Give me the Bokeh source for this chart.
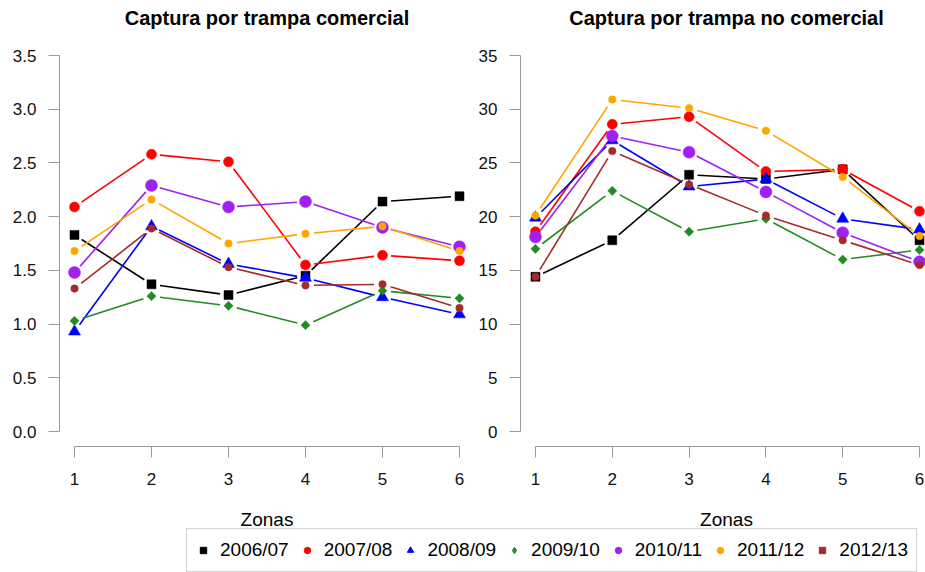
import math
from bokeh.plotting import figure
from bokeh.layouts import column, row
from bokeh.models import (Range1d, FixedTicker, Legend, LegendItem, ColumnDataSource,
                          NumeralTickFormatter, Label)
from bokeh.embed import file_html
from bokeh.resources import INLINE

# ---------------- data ----------------
zones = [1, 2, 3, 4, 5, 6]
seasons = ["2006/07", "2007/08", "2008/09", "2009/10", "2010/11", "2011/12", "2012/13"]
titles = ["Captura por trampa comercial", "Captura por trampa no comercial"]
x_title = "Zonas"

# Captura por trampa comercial
com_2006_07 = [1.83, 1.37, 1.27, 1.45, 2.14, 2.19]
com_2007_08 = [2.09, 2.58, 2.51, 1.55, 1.64, 1.59]
com_2008_09 = [0.93, 1.91, 1.56, 1.43, 1.25, 1.09]
com_2009_10 = [1.03, 1.26, 1.17, 0.99, 1.31, 1.24]
com_2010_11 = [1.48, 2.29, 2.09, 2.14, 1.90, 1.72]
com_2011_12 = [1.68, 2.16, 1.75, 1.84, 1.91, 1.68]
com_2012_13 = [1.33, 1.89, 1.53, 1.36, 1.37, 1.15]

# Captura por trampa no comercial
nocom_2006_07 = [14.4, 17.8, 23.9, 23.5, 24.4, 17.8]
nocom_2007_08 = [18.6, 28.6, 29.3, 24.2, 24.4, 20.5]
nocom_2008_09 = [19.9, 27.1, 22.8, 23.5, 19.8, 18.8]
nocom_2009_10 = [17.0, 22.4, 18.6, 19.8, 16.0, 16.9]
nocom_2010_11 = [18.1, 27.5, 26.0, 22.3, 18.5, 15.8]
nocom_2011_12 = [20.1, 30.9, 30.1, 28.0, 23.7, 18.2]
nocom_2012_13 = [14.4, 26.1, 23.0, 20.1, 17.8, 15.5]

left_yticks = [0.0, 0.5, 1.0, 1.5, 2.0, 2.5, 3.0, 3.5]
right_yticks = [0, 5, 10, 15, 20, 25, 30, 35]

com_series = [com_2006_07, com_2007_08, com_2008_09, com_2009_10, com_2010_11, com_2011_12, com_2012_13]
nocom_series = [nocom_2006_07, nocom_2007_08, nocom_2008_09, nocom_2009_10, nocom_2010_11, nocom_2011_12, nocom_2012_13]

# ---------------- styles ----------------
colors = ["#000000", "#FF0000", "#0000FF", "#228B22", "#A020F0", "#FFA500", "#A52A2A"]
markers = ["square", "circle", "triangle", "square", "circle", "circle", "circle"]
angles = [0, 0, 0, math.pi / 4, 0, 0, 0]
sizes = [9, 10, 12, 6.5, 12, 7.5, 7.5]
leg_markers = ["square", "circle", "triangle", "diamond", "circle", "circle", "square"]
FONT = "Liberation Sans"
AXIS_COL = "#9a9a9a"
GAP = 8.5  # px gap between line ends and points (R type="b")

# layout geometry (pixels)
TOTAL_W = 925
TOTAL_H = 572
TITLE_H = 40
PX_X = 77.0            # px per zone
FRAME_H = 406
BOTTOM = 54
PANEL_H = FRAME_H + BOTTOM
FOOT_H = TOTAL_H - TITLE_H - PANEL_H
LEFT_W = 475
PANEL_CENTERS = [266.5, 726]
TITLE_Y = 23     # text anchor height inside the title strip
CAPTION_Y = 53   # text anchor height inside the footer strip


def gapped(xs, ys, sx, sy):
    x0, y0, x1, y1 = [], [], [], []
    for i in range(len(xs) - 1):
        dx = xs[i + 1] - xs[i]
        dy = ys[i + 1] - ys[i]
        L = math.hypot(dx * sx, dy * sy)
        if L <= 2 * GAP:
            continue
        t = GAP / L
        x0.append(xs[i] + t * dx)
        y0.append(ys[i] + t * dy)
        x1.append(xs[i + 1] - t * dx)
        y1.append(ys[i + 1] - t * dy)
    return dict(x0=x0, y0=y0, x1=x1, y1=y1)


def strip(height):
    s = figure(width=TOTAL_W, height=height, output_backend="svg", toolbar_location=None,
               x_range=Range1d(-2, -1), y_range=Range1d(-2, -1),
               min_border_left=0, min_border_right=0, min_border_top=0, min_border_bottom=0,
               x_axis_type=None, y_axis_type=None)
    s.outline_line_color = None
    s.xgrid.visible = False
    s.ygrid.visible = False
    return s


def panel(series, yticks, width, left_border, x_offset, yfmt):
    frame_w = width - left_border
    ymax = yticks[-1]
    py = (FRAME_H - 30) / ymax  # px per y unit
    x_start = 1 - x_offset / PX_X
    x_end = x_start + frame_w / PX_X
    y_start = -15 / py
    y_end = ymax + 15 / py
    p = figure(width=width, height=PANEL_H, output_backend="svg", toolbar_location=None,
               x_range=Range1d(x_start, x_end), y_range=Range1d(y_start, y_end),
               min_border_left=left_border, min_border_right=0,
               min_border_top=0, min_border_bottom=BOTTOM)
    p.outline_line_color = None
    p.xgrid.visible = False
    p.ygrid.visible = False

    for ax in (p.xaxis[0], p.yaxis[0]):
        ax.axis_line_color = AXIS_COL
        ax.major_tick_line_color = AXIS_COL
        ax.minor_tick_line_color = None
        ax.major_tick_out = 11
        ax.major_tick_in = 0
        ax.major_label_text_font = FONT
        ax.major_label_text_font_size = "17px"
        ax.major_label_text_color = "#111111"
    p.xaxis.major_label_standoff = 15
    p.yaxis.major_label_standoff = 12
    p.xaxis.ticker = FixedTicker(ticks=zones)
    p.xaxis.bounds = (zones[0], zones[-1])
    p.yaxis.ticker = FixedTicker(ticks=yticks)
    p.yaxis.bounds = (yticks[0], yticks[-1])
    p.yaxis.formatter = NumeralTickFormatter(format=yfmt)

    for vals, c in zip(series, colors):
        p.segment(x0="x0", y0="y0", x1="x1", y1="y1",
                  source=ColumnDataSource(gapped(zones, vals, PX_X, py)),
                  line_color=c, line_width=1.6)
    for vals, c, m, a, s in zip(series, colors, markers, angles, sizes):
        p.scatter(zones, vals, marker=m, angle=a, size=s, fill_color=c, line_color=c, line_width=0.5)
    return p


# titles strip
top = strip(TITLE_H)
for t, cx in zip(titles, PANEL_CENTERS):
    top.add_layout(Label(x=cx, y=TITLE_Y, x_units="screen", y_units="screen", text=t,
                         text_font=FONT, text_font_size="20px", text_font_style="bold",
                         text_align="center", text_baseline="alphabetic", text_color="#000000"))

p1 = panel(com_series, left_yticks, LEFT_W, 59, 15, "0.0")
p2 = panel(nocom_series, right_yticks, TOTAL_W - LEFT_W, 44, 15, "0")

# footer strip: axis captions and legend (proxy points lie outside the strip's data view)
foot = strip(FOOT_H)
items = []
for name, vals, c, m in zip(seasons, com_series, colors, leg_markers):
    r = foot.scatter(zones, vals, marker=m, fill_color=c, line_color=c)
    items.append(LegendItem(label=name, renderers=[r]))
leg = Legend(items=items, orientation="horizontal",
             location=(186, 0),
             glyph_width=16, glyph_height=26, label_height=20,
             label_standoff=9, spacing=10, padding=8, margin=0,
             label_text_font=FONT, label_text_font_size="19px", label_text_color="#000000",
             border_line_color="#aaaaaa", border_line_width=1.2,
             background_fill_color="white", background_fill_alpha=1.0)
foot.add_layout(leg)
for cx in PANEL_CENTERS:
    foot.add_layout(Label(x=cx, y=CAPTION_Y, x_units="screen", y_units="screen", text=x_title,
                          text_font=FONT, text_font_size="19px",
                          text_align="center", text_baseline="alphabetic", text_color="#000000"))

layout = column(top, row(p1, p2), foot)
open("out.html", "w").write(file_html(layout, INLINE))
